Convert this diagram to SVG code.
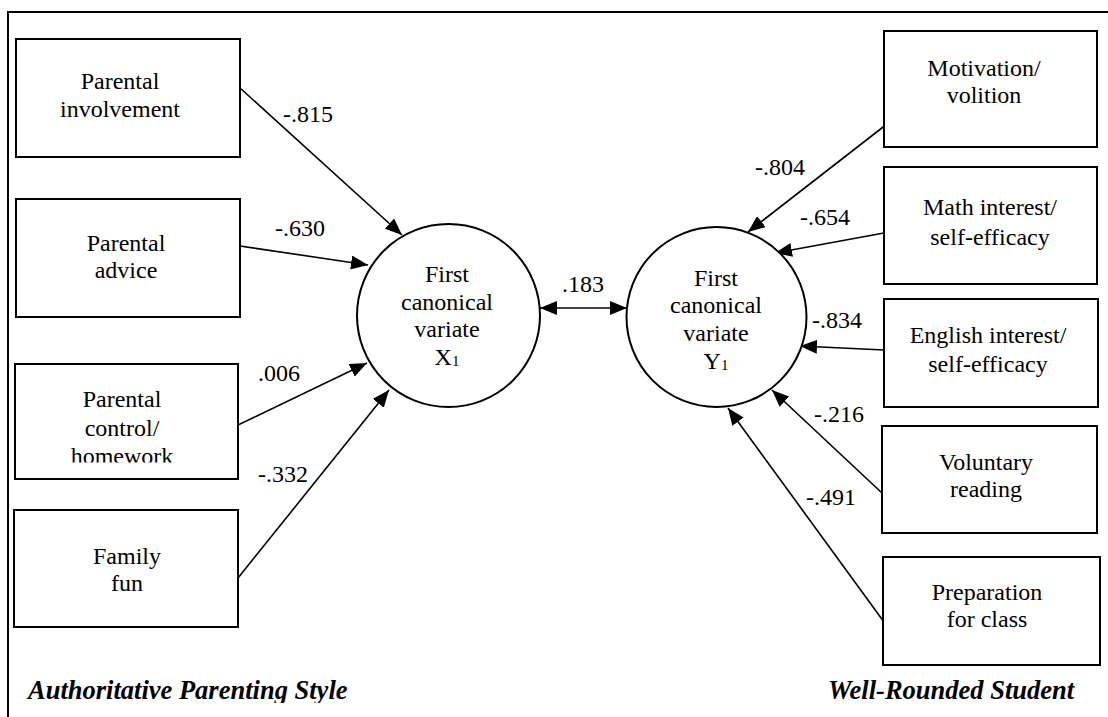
<svg xmlns="http://www.w3.org/2000/svg" width="1108" height="717" viewBox="0 0 1108 717">
  <style>
    text { font-family: "Liberation Serif", "Times New Roman", serif; font-size: 24px; fill: #000; }
    .c { text-anchor: middle; }
    .title { font-weight: bold; font-style: italic; font-size: 26.5px; }
    .sub { font-size: 15px; }
    .box { fill: #fff; stroke: #000; stroke-width: 2; }
    .var { fill: #fff; stroke: #000; stroke-width: 2; }
    .edge { stroke: #000; stroke-width: 1.6; fill: none; marker-end: url(#arrow); }
    .frame { stroke: #000; stroke-width: 2; fill: none; }
  </style>
  <defs>
    <marker id="arrow" markerUnits="userSpaceOnUse" markerWidth="18" markerHeight="14" refX="17" refY="7" orient="auto">
      <path d="M0,0 L17,7 L0,14 z" fill="#000"/>
    </marker>
    <marker id="arrowStart" markerUnits="userSpaceOnUse" markerWidth="18" markerHeight="14" refX="0" refY="7" orient="auto">
      <path d="M17,0 L0,7 L17,14 z" fill="#000"/>
    </marker>
    <clipPath id="clipBox3"><rect x="0" y="364" width="300" height="98.5"/></clipPath>
    <clipPath id="clipBottom"><rect x="0" y="0" width="1108" height="703"/></clipPath>
  </defs>

  <rect width="1108" height="717" fill="#fff"/>
  <path class="frame" d="M8,717 L8,12 L1108,12"/>

  <!-- connectors -->
  <g id="connectors">
    <line class="edge" x1="240" y1="88" x2="402" y2="235"/>
    <line class="edge" x1="240" y1="246" x2="368" y2="265"/>
    <line class="edge" x1="238" y1="425" x2="367" y2="363"/>
    <line class="edge" x1="238" y1="578" x2="389" y2="390"/>

    <line class="edge" x1="887" y1="124" x2="748" y2="232"/>
    <line class="edge" x1="884" y1="233" x2="775" y2="253"/>
    <line class="edge" x1="884" y1="350" x2="800" y2="346"/>
    <line class="edge" x1="882" y1="493" x2="772" y2="390"/>
    <line class="edge" x1="884" y1="622" x2="728" y2="408"/>

    <line class="edge" x1="540" y1="308" x2="627" y2="308" marker-start="url(#arrowStart)"/>

    <text x="283" y="122">-.815</text>
    <text x="275" y="236">-.630</text>
    <text x="258" y="381">.006</text>
    <text x="258" y="482">-.332</text>
    <text x="562" y="292">.183</text>
    <text x="755" y="175">-.804</text>
    <text x="800" y="225">-.654</text>
    <text x="812" y="328">-.834</text>
    <text x="814" y="422">-.216</text>
    <text x="806" y="505">-.491</text>
  </g>

  <!-- parenting indicators -->
  <g id="parental-involvement">
    <rect class="box" x="16" y="39" width="224" height="118"/>
    <text class="c" x="120" y="89">Parental</text>
    <text class="c" x="120" y="117">involvement</text>
  </g>
  <g id="parental-advice">
    <rect class="box" x="16" y="199" width="224" height="118"/>
    <text class="c" x="126" y="251">Parental</text>
    <text class="c" x="126" y="278">advice</text>
  </g>
  <g id="parental-control">
    <rect class="box" x="15" y="364" width="223" height="115"/>
    <g clip-path="url(#clipBox3)">
      <text class="c" x="122" y="407">Parental</text>
      <text class="c" x="122" y="436">control/</text>
      <text class="c" x="122" y="464">homework</text>
    </g>
  </g>
  <g id="family-fun">
    <rect class="box" x="14" y="510" width="224" height="117"/>
    <text class="c" x="127" y="564">Family</text>
    <text class="c" x="127" y="591">fun</text>
  </g>

  <!-- canonical variates -->
  <g id="variate-x1">
    <circle class="var" cx="448.5" cy="315.5" r="91.5"/>
    <text class="c" x="447" y="282">First</text>
    <text class="c" x="447" y="310">canonical</text>
    <text class="c" x="447" y="337">variate</text>
    <text class="c" x="447" y="365">X<tspan class="sub" dy="1">1</tspan></text>
  </g>
  <g id="variate-y1">
    <circle class="var" cx="716.5" cy="317" r="90"/>
    <text class="c" x="716" y="286">First</text>
    <text class="c" x="716" y="313">canonical</text>
    <text class="c" x="716" y="341">variate</text>
    <text class="c" x="716" y="369">Y<tspan class="sub" dy="1">1</tspan></text>
  </g>

  <!-- student indicators -->
  <g id="motivation">
    <rect class="box" x="884" y="31" width="213" height="116"/>
    <text class="c" x="984" y="76">Motivation/</text>
    <text class="c" x="984" y="103">volition</text>
  </g>
  <g id="math-interest">
    <rect class="box" x="884" y="167" width="213" height="117"/>
    <text class="c" x="990" y="215">Math interest/</text>
    <text class="c" x="990" y="245">self-efficacy</text>
  </g>
  <g id="english-interest">
    <rect class="box" x="884" y="299" width="214" height="108"/>
    <text class="c" x="988" y="343">English interest/</text>
    <text class="c" x="988" y="372">self-efficacy</text>
  </g>
  <g id="voluntary-reading">
    <rect class="box" x="882" y="426" width="215" height="107"/>
    <text class="c" x="986" y="470">Voluntary</text>
    <text class="c" x="986" y="497">reading</text>
  </g>
  <g id="preparation">
    <rect class="box" x="883" y="557" width="217" height="108"/>
    <text class="c" x="987" y="600">Preparation</text>
    <text class="c" x="987" y="627">for class</text>
  </g>

  <!-- group titles -->
  <g id="titles" clip-path="url(#clipBottom)">
    <text class="title" x="28" y="699">Authoritative Parenting Style</text>
    <text class="title" x="828" y="699">Well-Rounded Student</text>
  </g>
</svg>
